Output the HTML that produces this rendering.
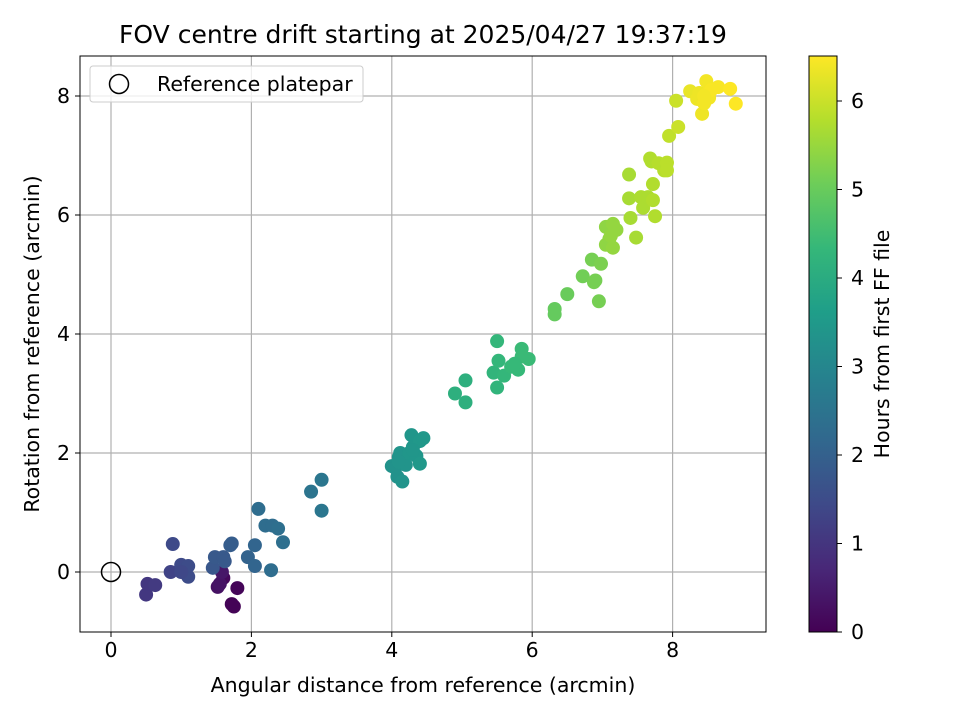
<!DOCTYPE html>
<html><head><meta charset="utf-8"><style>
body{margin:0;background:#fff}
svg text{font-family:"DejaVu Sans","Liberation Sans",sans-serif;fill:#000}
</style></head><body>
<svg id="c" width="960" height="720"></svg>
<script>
const xs=[1.6,1.52,1.55,1.72,1.75,1.8,1.58,
0.5,0.52,0.63,0.85,0.88,1.0,1.05,1.1,1.1,1.0,
1.45,1.48,1.6,1.62,1.7,1.72,1.95,2.05,2.05,2.1,2.2,2.3,2.38,2.45,2.28,
2.85,3.0,3.0,
4.0,4.05,4.08,4.1,4.12,4.15,4.2,4.25,4.28,4.3,4.35,4.4,4.4,4.45,4.3,4.1,
4.9,5.05,5.05,5.45,5.5,5.5,5.52,5.6,5.7,5.8,5.85,5.85,5.95,5.75,
6.32,6.32,6.5,6.72,6.85,6.88,6.9,6.95,6.98,7.05,7.05,7.1,7.15,7.15,7.2,7.12,
7.38,7.38,7.4,7.48,7.55,7.58,7.65,7.68,7.7,7.72,7.72,7.75,7.8,7.88,7.92,7.92,7.95,8.05,8.08,
8.25,8.35,8.38,8.42,8.45,8.48,8.5,8.52,8.55,8.65,8.82,8.9,8.45];
const ys=[-0.1,-0.25,-0.2,-0.54,-0.58,-0.27,0.0,
-0.38,-0.2,-0.22,0.0,0.47,0.12,0.03,-0.08,0.1,0.0,
0.07,0.25,0.25,0.18,0.45,0.48,0.25,0.1,0.45,1.06,0.78,0.78,0.73,0.5,0.03,
1.35,1.55,1.03,
1.78,1.75,1.6,1.93,2.0,1.52,1.8,2.0,2.3,2.1,1.95,2.2,1.82,2.25,2.05,1.85,
3.0,3.22,2.85,3.35,3.1,3.88,3.55,3.3,3.45,3.4,3.75,3.62,3.58,3.5,
4.42,4.33,4.67,4.97,5.25,4.87,4.9,4.55,5.18,5.8,5.5,5.6,5.85,5.45,5.75,5.65,
6.68,6.28,5.95,5.62,6.3,6.12,6.3,6.95,6.9,6.25,6.52,5.98,6.87,6.75,6.88,6.75,7.33,7.92,7.48,
8.08,7.95,8.05,7.7,7.88,8.25,8.05,7.97,8.1,8.15,8.12,7.87,8.0];
const hours=[0.15,0.3,0.35,0.05,0.05,0.1,0.4,
1.05,1.05,1.1,1.3,1.45,1.45,1.5,1.5,1.5,1.4,
1.75,1.8,1.8,1.8,1.9,1.9,2.05,2.1,2.1,2.3,2.3,2.3,2.35,2.35,2.3,
2.5,2.55,2.55,
3.3,3.3,3.3,3.3,3.35,3.35,3.35,3.4,3.4,3.4,3.4,3.45,3.45,3.45,3.4,3.35,
4.1,4.1,4.1,4.25,4.25,4.3,4.3,4.3,4.35,4.35,4.4,4.4,4.4,4.35,
4.95,4.95,5.0,5.1,5.15,5.15,5.15,5.15,5.2,5.4,5.4,5.4,5.45,5.45,5.45,5.45,
5.65,5.65,5.65,5.65,5.7,5.7,5.7,5.75,5.75,5.75,5.75,5.75,5.8,5.8,5.85,5.85,5.9,6.0,6.0,
6.3,6.35,6.35,6.35,6.4,6.4,6.4,6.4,6.45,6.45,6.5,6.5,6.4];
const xTicks=[0,2,4,6,8], yTicks=[0,2,4,6,8], cTicks=[0,1,2,3,4,5,6];
const L=80,R=766,T=56,B=632,FS=20.5;
const X=v=>111+v*70.2, Y=v=>572-v*59.5, C=v=>632-v*88.5;
const vir=[[68,1,84],[72,40,120],[62,74,137],[49,104,142],[38,130,142],[31,158,137],[53,183,121],[109,205,89],[180,222,44],[253,231,37]];
function col(h){let t=Math.max(0,Math.min(1,h/6.5))*9,i=Math.min(8,Math.floor(t)),f=t-i,a=vir[i],b=vir[i+1];
return `rgb(${a.map((v,k)=>Math.round(v+(b[k]-v)*f)).join(',')})`;}
const s=document.getElementById('c');const NS='http://www.w3.org/2000/svg';
function el(t,at,p){const e=document.createElementNS(NS,t);for(const k in at)e.setAttribute(k,at[k]);(p||s).appendChild(e);return e;}
function tx(x,y,str,at){const e=el('text',Object.assign({x,y,'font-size':FS},at||{}));e.textContent=str;return e;}
xTicks.forEach(v=>{const g=el('line',{x1:X(v),x2:X(v),y1:T,y2:B,stroke:'#b0b0b0','stroke-width':1.2});

el('line',{x1:X(v),x2:X(v),y1:B,y2:B+5,stroke:'#000'});
const t=tx(X(v),B+25,v,{'text-anchor':'middle'});});
yTicks.forEach(v=>{const g=el('line',{x1:L,x2:R,y1:Y(v),y2:Y(v),stroke:'#b0b0b0','stroke-width':1.2});

el('line',{x1:L-5,x2:L,y1:Y(v),y2:Y(v),stroke:'#000'});
const t=tx(L-10,Y(v)+7,v,{'text-anchor':'end'});});
xs.forEach((x,i)=>{const p=el('circle',{cx:X(x),cy:Y(ys[i]),r:7,fill:col(hours[i])});
});
const ref=el('circle',{cx:X(0),cy:Y(0),r:9.5,fill:'none',stroke:'#000','stroke-width':1.5});

const fr=el('rect',{x:L,y:T,width:R-L,height:B-T,fill:'none',stroke:'#000','stroke-width':1});

const lg=el('g',{});
el('rect',{x:90,y:66,width:273,height:36,rx:3,fill:'#fff','fill-opacity':0.8,stroke:'#ccc'},lg);
el('circle',{cx:119,cy:84,r:9.5,fill:'none',stroke:'#000','stroke-width':1.5},lg);
const lt=tx(157,91,'Reference platepar');lg.appendChild(lt);
const tt=tx(423,43,'FOV centre drift starting at 2025/04/27 19:37:19',{'text-anchor':'middle','font-size':25});

const xt=tx(423,692,'Angular distance from reference (arcmin)',{'text-anchor':'middle'});

const yt=tx(0,0,'Rotation from reference (arcmin)',{'text-anchor':'middle',transform:'translate(39,344) rotate(-90)'});

const defs=el('defs',{});const gr=el('linearGradient',{id:'vg',x1:0,y1:1,x2:0,y2:0},defs);
vir.forEach((c,i)=>el('stop',{offset:i/9,'stop-color':`rgb(${c.join(',')})`},gr));
const cb=el('rect',{x:809,y:56,width:28,height:576,fill:'url(#vg)',stroke:'#000'});

cTicks.forEach(v=>{el('line',{x1:837,x2:842,y1:C(v),y2:C(v),stroke:'#000'});
const t=tx(851,C(v)+7,v);});
const ct=tx(0,0,'Hours from first FF file',{'text-anchor':'middle',transform:'translate(889,344) rotate(-90)'});

</script></body></html>
